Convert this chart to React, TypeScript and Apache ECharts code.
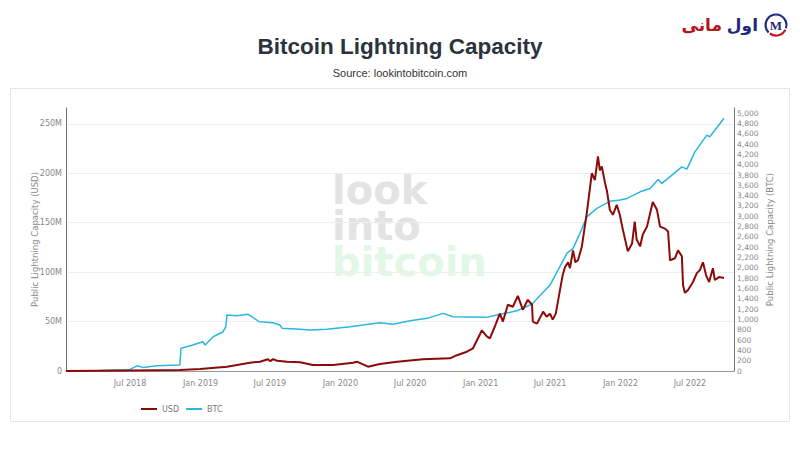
import React, { useEffect, useRef } from "react";
import * as echarts from "echarts";

const titleText = "Bitcoin Lightning Capacity";
const subtitleText = "Source: lookintobitcoin.com";
const usdAxisName = "Public Lightning Capacity (USD)";
const btcAxisName = "Public Lightning Capacity (BTC)";
const monthNames = ["Jan", "Feb", "Mar", "Apr", "May", "Jun", "Jul", "Aug", "Sep", "Oct", "Nov", "Dec"];

const xStart = "2018-01-15";
const xEnd = "2022-10-24";

const btcDates = [
  "2018-01-15", "2018-04-14", "2018-06-23", "2018-07-01", "2018-07-19", "2018-08-04", "2018-09-09",
  "2018-11-08", "2018-11-11", "2018-12-12", "2019-01-07", "2019-01-13", "2019-02-03", "2019-03-01",
  "2019-03-08", "2019-03-11", "2019-04-06", "2019-05-05", "2019-05-15", "2019-06-03", "2019-07-09",
  "2019-07-27", "2019-08-02", "2019-09-18", "2019-10-14", "2019-11-27", "2020-01-26", "2020-02-29",
  "2020-04-13", "2020-05-17", "2020-07-01", "2020-08-14", "2020-09-25", "2020-10-21", "2020-12-04",
  "2021-01-17", "2021-02-12", "2021-04-06", "2021-05-10", "2021-05-17", "2021-07-01", "2021-08-14",
  "2021-08-30", "2021-09-17", "2021-10-05", "2021-10-31", "2021-12-04", "2021-12-30", "2022-01-18",
  "2022-02-21", "2022-03-19", "2022-04-09", "2022-04-19", "2022-05-15", "2022-06-10", "2022-06-23",
  "2022-07-14", "2022-08-14", "2022-08-22", "2022-09-28"
];
const btcValues = [
  0, 8, 22, 30, 100, 70, 100,
  118, 440, 504, 568, 504, 665, 762,
  859, 1085, 1072, 1099, 1052, 955, 936,
  891, 827, 808, 795, 808, 859, 891,
  936, 905, 975, 1021, 1118, 1052, 1046,
  1040, 1085, 1169, 1279, 1312, 1667, 2281,
  2378, 2669, 2990, 3153, 3290, 3314, 3347,
  3475, 3540, 3715, 3637, 3798, 3959, 3915,
  4250, 4574, 4541, 4900
];

const usdDates = [
  "2018-01-15", "2018-07-01", "2018-11-08", "2018-12-31", "2019-03-11", "2019-05-10", "2019-06-05",
  "2019-06-26", "2019-07-02", "2019-07-09", "2019-07-20", "2019-08-15", "2019-09-18", "2019-10-21", "2019-12-13", "2020-02-03",
  "2020-02-13", "2020-03-13", "2020-04-13", "2020-05-28", "2020-08-03", "2020-10-13", "2020-10-31",
  "2020-11-26", "2020-12-12", "2021-01-04", "2021-01-17", "2021-01-25", "2021-02-07", "2021-02-20",
  "2021-02-28", "2021-03-13", "2021-03-26", "2021-04-08", "2021-04-21", "2021-05-04", "2021-05-15",
  "2021-05-17", "2021-05-28", "2021-06-05", "2021-06-13", "2021-06-22", "2021-07-01", "2021-07-08", "2021-07-16", "2021-07-27", "2021-08-03", "2021-08-09",
  "2021-08-17", "2021-08-22", "2021-08-30", "2021-09-05", "2021-09-12", "2021-09-22", "2021-10-05", "2021-10-18", "2021-10-26",
  "2021-11-03", "2021-11-08", "2021-11-13", "2021-11-21", "2021-11-27", "2021-12-04", "2021-12-12", "2021-12-22",
  "2021-12-30", "2022-01-07", "2022-01-20", "2022-01-31", "2022-02-07", "2022-02-12", "2022-02-21", "2022-02-28",
  "2022-03-11", "2022-03-26", "2022-04-06", "2022-04-14", "2022-04-27", "2022-05-05", "2022-05-10",
  "2022-05-23", "2022-05-31", "2022-06-10", "2022-06-13", "2022-06-18", "2022-06-26", "2022-07-09",
  "2022-07-19", "2022-07-27", "2022-08-04", "2022-08-12", "2022-08-20", "2022-08-30", "2022-09-04",
  "2022-09-15", "2022-09-28"
];
const usdValues = [
  0, 0.5, 1, 2, 4.4, 8.4, 9.4,
  11.8, 9.8, 12, 10.4, 9.4, 8.8, 6, 6, 8.4,
  9.4, 4.4, 7, 9.4, 11.8, 12.8, 16,
  19.5, 23, 41, 35, 33, 45, 58,
  50, 67, 65, 76, 62, 72, 67,
  50, 48, 54, 60, 55, 58, 52, 58, 82, 97, 105,
  110, 104, 122, 110, 112, 126, 160, 200, 193,
  217, 203, 207, 191, 181, 163, 158, 168,
  158, 143, 121, 129, 151, 133, 126, 138,
  146, 171, 163, 146, 144, 141, 112,
  114, 122, 116, 87, 79, 82, 90,
  99, 102, 110, 97, 90, 104, 92,
  95, 94
].map((v) => v * 1e6);

const toTs = (s: string) => {
  const [y, m, d] = s.split("-").map(Number);
  return Date.UTC(y, m - 1, d);
};

const DAY = 86400000;
const labelFont = "DejaVu Sans";

export default function App() {
  const ref = useRef<HTMLDivElement>(null);

  useEffect(() => {
    if (!ref.current) return;
    const chart = echarts.init(ref.current, undefined, { renderer: "svg" });

    const btcData = btcDates.map((d, i) => [toTs(d), btcValues[i]]);
    const usdData = usdDates.map((d, i) => [toTs(d), usdValues[i]]);

    chart.setOption({
      animation: false,
      useUTC: true,
      backgroundColor: "#ffffff",
      title: [
        {
          text: titleText,
          left: "center",
          top: 30,
          textStyle: { fontFamily: "Liberation Sans", fontWeight: "bold", fontSize: 22.5, color: "#2b333d" },
        },
        {
          text: subtitleText,
          left: "center",
          top: 62,
          textStyle: { fontFamily: "Liberation Sans", fontWeight: "normal", fontSize: 11, color: "#333333" },
        },
      ],
      graphic: [
        {
          type: "rect",
          z: -10,
          shape: { x: 10.5, y: 88.5, width: 779, height: 333 },
          style: { fill: "none", stroke: "#e6e6e6", lineWidth: 1 },
          silent: true,
        },
        {
          type: "text",
          z: -5,
          x: 332,
          y: 226,
          silent: true,
          style: {
            text: "{g|look}\n{g|into}\n{b|bitcoin}",
            align: "left",
            verticalAlign: "middle",
            rich: {
              g: { fontFamily: "DejaVu Sans", fontWeight: "bold", fontSize: 40, lineHeight: 36, fill: "#e3e3e3", color: "#e3e3e3" },
              b: { fontFamily: "DejaVu Sans", fontWeight: "bold", fontSize: 40, lineHeight: 36, fill: "#e3f7e7", color: "#e3f7e7" },
            },
          },
        },
        {
          type: "text",
          x: 758,
          y: 25,
          style: { text: "اول", fontFamily: "DejaVu Sans", fontWeight: "bold", fontSize: 17, fill: "#1f2a7a", verticalAlign: "middle", align: "right" },
        },
        {
          type: "text",
          x: 722,
          y: 25,
          style: { text: "مانی", fontFamily: "DejaVu Sans", fontWeight: "bold", fontSize: 17, fill: "#b3141f", verticalAlign: "middle", align: "right" },
        },
        {
          type: "arc",
          shape: { cx: 776, cy: 25, r: 10.5, startAngle: Math.PI * 0.75, endAngle: Math.PI * 2.1 },
          style: { stroke: "#1f2a7a", lineWidth: 2.2, fill: "none" },
        },
        {
          type: "arc",
          shape: { cx: 776, cy: 25, r: 10.5, startAngle: Math.PI * 0.15, endAngle: Math.PI * 0.7 },
          style: { stroke: "#c0182a", lineWidth: 2.2, fill: "none" },
        },
        {
          type: "text",
          x: 776,
          y: 25,
          style: { text: "M", fontFamily: "Liberation Serif", fontWeight: "bold", fontSize: 13, fill: "#1f2a7a", verticalAlign: "middle", align: "center" },
        },
      ],
      legend: {
        data: ["USD", "BTC"],
        left: 136,
        top: 400,
        icon: "rect",
        itemWidth: 16,
        itemHeight: 2,
        itemGap: 7,
        textStyle: { fontFamily: labelFont, fontSize: 8, color: "#777777" },
      },
      grid: { left: 66, right: 66, top: 108, bottom: 79 },
      xAxis: {
        type: "time",
        min: toTs(xStart),
        max: toTs(xEnd),
        minInterval: 180 * DAY,
        maxInterval: 186 * DAY,
        axisLine: { show: true, lineStyle: { color: "#999999", width: 1 } },
        axisTick: { show: false },
        splitLine: { show: false },
        axisLabel: {
          fontFamily: labelFont,
          fontSize: 8,
          color: "#888888",
          margin: 8,
          hideOverlap: false,
          formatter: (v: number) => {
            const d = new Date(v);
            const m = d.getUTCMonth();
            if (d.getUTCDate() !== 1 || (m !== 0 && m !== 6)) return "";
            return monthNames[m] + " " + d.getUTCFullYear();
          },
        },
      },
      yAxis: [
        {
          type: "value",
          min: 0,
          max: 266e6,
          interval: 50e6,
          name: usdAxisName,
          nameLocation: "middle",
          nameGap: 27,
          nameMoveOverlap: false,
          nameTextStyle: { fontFamily: labelFont, fontSize: 8.5, color: "#888888" },
          axisLine: { show: true, lineStyle: { color: "#777777", width: 1 } },
          axisTick: { show: false },
          splitLine: { show: true, showMaxLine: false, lineStyle: { color: "#eeeeee", width: 1 } },
          axisLabel: {
            fontFamily: labelFont,
            fontSize: 8,
            color: "#888888",
            margin: 4,
            showMaxLabel: false,
            formatter: (v: number) => (v === 0 ? "0" : v / 1e6 + "M"),
          },
        },
        {
          type: "value",
          min: 0,
          max: 5100,
          interval: 200,
          position: "right",
          name: btcAxisName,
          nameLocation: "middle",
          nameGap: 31,
          nameMoveOverlap: false,
          nameRotate: 90,
          nameTextStyle: { fontFamily: labelFont, fontSize: 8.5, color: "#888888" },
          axisLine: { show: true, lineStyle: { color: "#777777", width: 1 } },
          axisTick: { show: false },
          splitLine: { show: false },
          axisLabel: {
            fontFamily: labelFont,
            fontSize: 7.5,
            color: "#888888",
            margin: 3,
            showMaxLabel: false,
            formatter: (v: number) => v.toLocaleString("en-US"),
          },
        },
      ],
      series: [
        {
          name: "BTC",
          type: "line",
          yAxisIndex: 1,
          data: btcData,
          showSymbol: false,
          lineStyle: { color: "#2ab6e2", width: 1.5 },
          itemStyle: { color: "#2ab6e2" },
          z: 2,
        },
        {
          name: "USD",
          type: "line",
          yAxisIndex: 0,
          data: usdData,
          showSymbol: false,
          lineStyle: { color: "#8b0a0a", width: 2 },
          itemStyle: { color: "#8b0a0a" },
          z: 3,
        },
      ],
    });

    return () => chart.dispose();
  }, []);

  return <div ref={ref} style={{ width: 800, height: 450, position: "absolute", left: 0, top: 0 }} />;
}
